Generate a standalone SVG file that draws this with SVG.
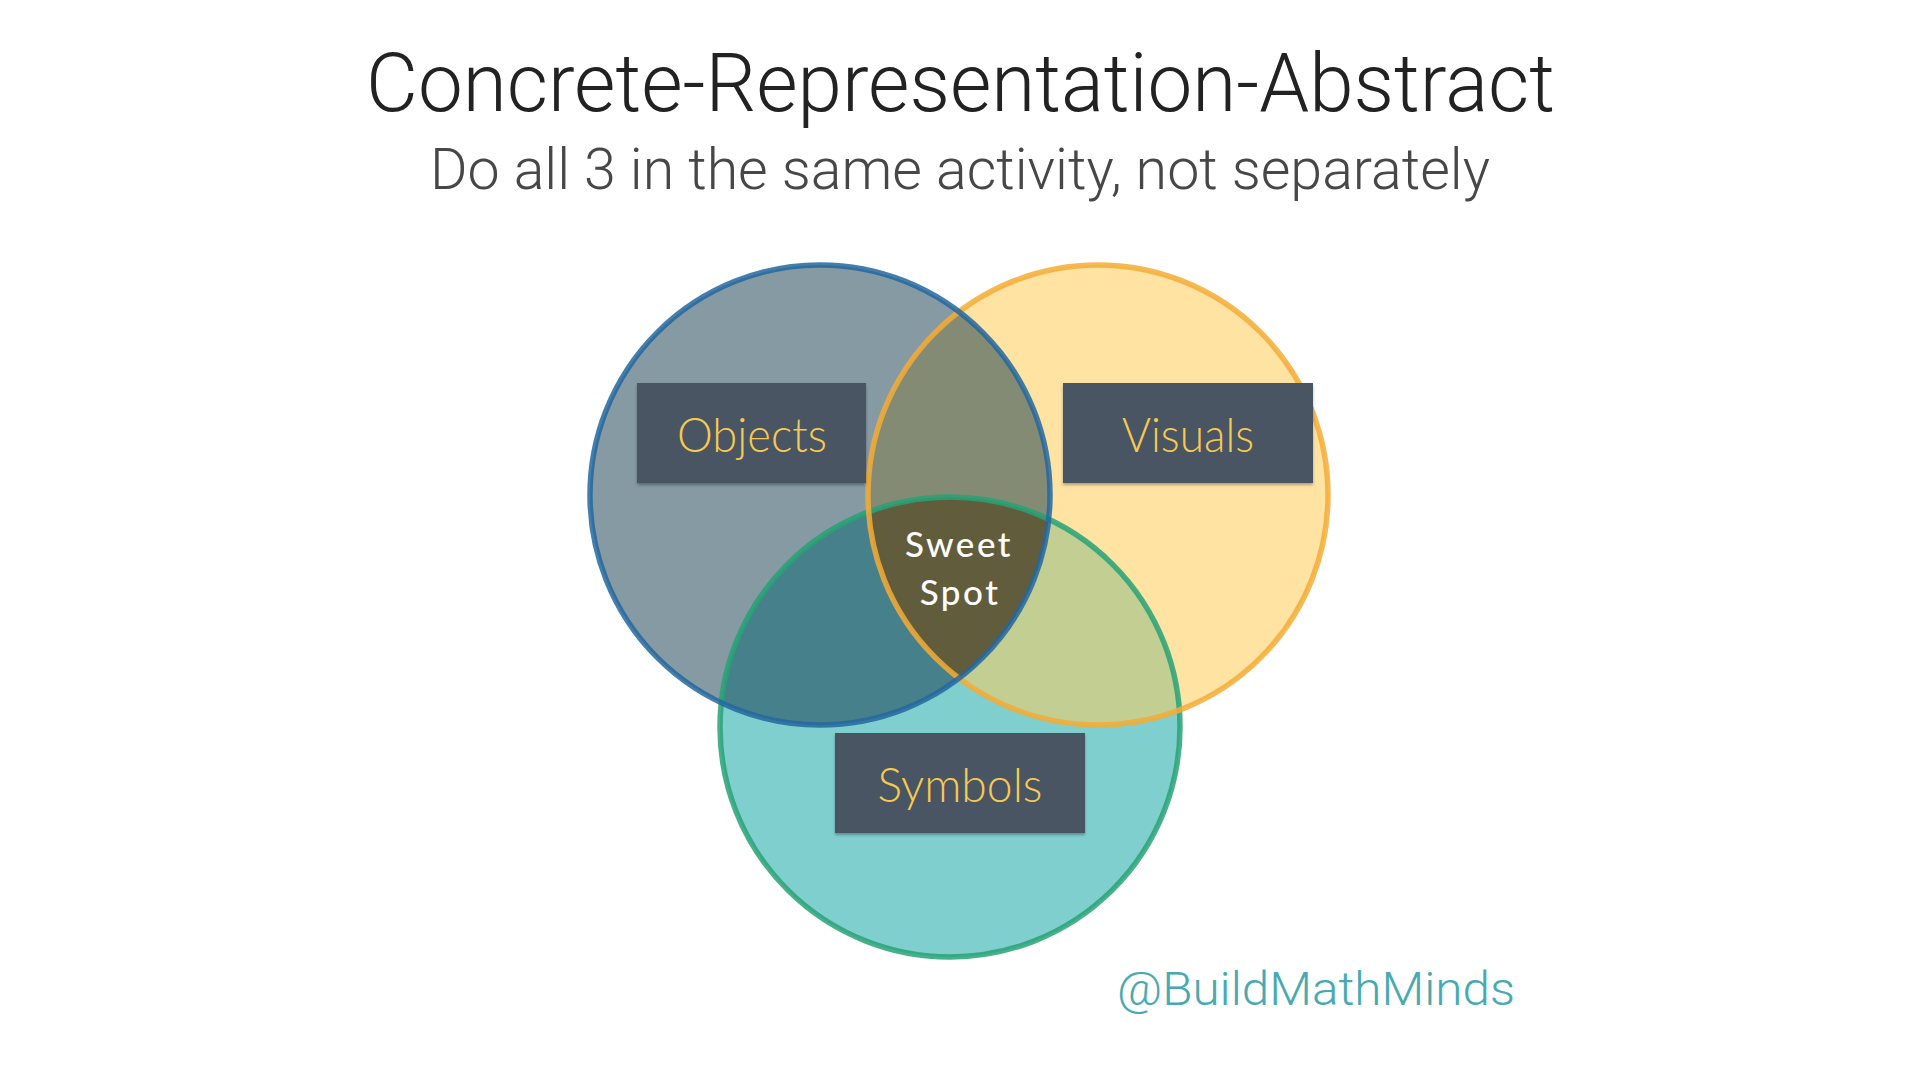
<svg xmlns="http://www.w3.org/2000/svg" width="1920" height="1080" viewBox="0 0 1920 1080">
<style>
.title{font-family:Roboto,"Liberation Sans",sans-serif;font-weight:300;fill:#222222}
.sub{font-family:Roboto,"Liberation Sans",sans-serif;font-weight:300;fill:#474747}
.box{fill:#4a5462;filter:url(#sh)}
.lbl{font-family:Lato,"Open Sans",sans-serif;font-weight:300;font-size:47px;fill:#f6c950;text-anchor:middle}
.sweet{font-family:Lato,"Open Sans",sans-serif;font-weight:500;font-size:35px;fill:#ffffff;text-anchor:middle;letter-spacing:2.5px}
.ring{fill:none;stroke-width:5.5;stroke-opacity:0.85}
.tag{font-family:Roboto,"Liberation Sans",sans-serif;font-weight:300;font-size:46px;fill:#48a9b0}
</style>
<defs>
<filter id="sh" x="-10%" y="-10%" width="120%" height="130%">
<feDropShadow dx="0" dy="2" stdDeviation="1.5" flood-color="#000" flood-opacity="0.3"/>
</filter>
<clipPath id="cBlue"><circle cx="820" cy="495" r="230"/></clipPath>
<clipPath id="cYellow"><circle cx="1098" cy="495" r="230"/></clipPath>
</defs>
<rect width="1920" height="1080" fill="#ffffff"/>
<text class="title" x="366" y="111" font-size="81" textLength="1189" lengthAdjust="spacingAndGlyphs">Concrete-Representation-Abstract</text>
<text class="sub" x="430" y="189" font-size="57" textLength="1060" lengthAdjust="spacingAndGlyphs">Do all 3 in the same activity, not separately</text>
<g id="venn">
<circle cx="820" cy="495" r="230" fill="#859aa3"/>
<circle cx="1098" cy="495" r="230" fill="#fee3a3"/>
<circle cx="950" cy="727" r="230" fill="#80cfcf"/>
<g clip-path="url(#cBlue)">
<circle cx="1098" cy="495" r="230" fill="#838b74"/>
<circle cx="950" cy="727" r="230" fill="#46808a"/>
</g>
<g clip-path="url(#cYellow)">
<circle cx="950" cy="727" r="230" fill="#c2ce92"/>
<g clip-path="url(#cBlue)">
<circle cx="950" cy="727" r="230" fill="#615c3c"/>
</g>
</g>
<circle class="ring" cx="950" cy="727" r="230" stroke="#27a275"/>
<circle class="ring" cx="1098" cy="495" r="230" stroke="#f5ab35"/>
<circle class="ring" cx="820" cy="495" r="230" stroke="#23679f"/>
</g>
<g id="objects">
<rect class="box" x="637" y="383" width="229" height="100"/>
<text class="lbl" x="752" y="452" textLength="150" lengthAdjust="spacingAndGlyphs">Objects</text>
</g>
<g id="visuals">
<rect class="box" x="1063" y="383" width="250" height="100"/>
<text class="lbl" x="1188" y="452" textLength="132" lengthAdjust="spacingAndGlyphs">Visuals</text>
</g>
<g id="symbols">
<rect class="box" x="835" y="733" width="250" height="100"/>
<text class="lbl" x="960" y="802" textLength="165" lengthAdjust="spacingAndGlyphs">Symbols</text>
</g>
<g id="sweetspot">
<text class="sweet" x="959" y="557">Sweet</text>
<text class="sweet" x="960" y="605">Spot</text>
</g>
<text class="tag" x="1117" y="1005" textLength="398" lengthAdjust="spacingAndGlyphs">@BuildMathMinds</text>
</svg>
